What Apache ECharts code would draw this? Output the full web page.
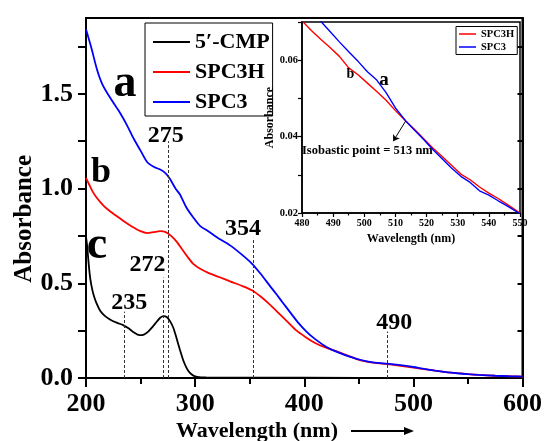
<!DOCTYPE html>
<html>
<head>
<meta charset="utf-8">
<script src="https://cdn.jsdelivr.net/npm/echarts@6/dist/echarts.min.js"></script>
<style>
    html, body { margin: 0; padding: 0; background: #fff; }
    #chart { width: 545px; height: 441px; }
</style>
</head>
<body>
<div id="chart"></div>
<script>
(function () {
    'use strict';

    var FONT = '"Liberation Serif", "Times New Roman", serif';

    // main spectra, [wavelength (nm), absorbance]
    var cmpData = [
        [200, 0.745], [201, 0.70], [202.5, 0.60], [204, 0.52], [206, 0.46], [208, 0.42],
        [210, 0.39], [213, 0.355], [216, 0.335], [219, 0.32], [224, 0.302], [229, 0.29],
        [234, 0.279], [239, 0.262], [244, 0.24], [249, 0.226], [253, 0.229], [257, 0.245],
        [261, 0.27], [265, 0.298], [268, 0.318], [271, 0.327], [274, 0.322], [277, 0.30],
        [280, 0.265], [283, 0.21], [286, 0.15], [289, 0.095], [292, 0.055], [295, 0.028],
        [298, 0.014], [302, 0.006], [310, 0.003], [350, 0.002], [450, 0.001], [600, 0]
    ];
    var spc3hData = [
        [200, 1.056], [203, 1.02], [206, 0.985], [210, 0.95], [216, 0.91], [222, 0.88],
        [228, 0.855], [234, 0.83], [242, 0.80], [250, 0.775], [256, 0.765], [262, 0.77],
        [268, 0.775], [273, 0.77], [278, 0.75], [283, 0.72], [288, 0.68], [293, 0.64],
        [298, 0.604], [305, 0.575], [312, 0.555], [322, 0.533], [332, 0.51], [342, 0.488],
        [352, 0.463], [360, 0.43], [368, 0.39], [377, 0.34], [385, 0.295], [393, 0.25],
        [401, 0.217], [410, 0.185], [420, 0.16], [431, 0.138], [440, 0.118], [448, 0.10],
        [456, 0.088], [465, 0.08], [472, 0.076], [480, 0.0703], [490, 0.0625], [500, 0.055],
        [510, 0.047], [520, 0.0385], [530, 0.031], [540, 0.0255], [550, 0.02], [560, 0.016],
        [575, 0.012], [590, 0.009], [600, 0.007]
    ];
    var spc3Data = [
        [200, 1.84], [205, 1.74], [210, 1.63], [215, 1.55], [222, 1.48], [230, 1.41],
        [237, 1.34], [244, 1.26], [250, 1.20], [256, 1.14], [262, 1.115], [268, 1.10],
        [273, 1.08], [277, 1.05], [282, 1.00], [286, 0.97], [292, 0.90], [298, 0.85],
        [305, 0.80], [312, 0.775], [322, 0.735], [332, 0.70], [342, 0.655], [352, 0.604],
        [360, 0.55], [368, 0.49], [374, 0.446], [380, 0.40], [388, 0.34], [395, 0.288],
        [402, 0.245], [410, 0.205], [420, 0.165], [431, 0.135], [443, 0.11], [452, 0.095],
        [460, 0.085], [470, 0.078], [480, 0.0735], [490, 0.0665], [500, 0.058], [510, 0.048],
        [520, 0.039], [530, 0.031], [540, 0.025], [550, 0.02], [560, 0.016], [575, 0.012],
        [590, 0.009], [600, 0.007]
    ];

    // inset, 480-550 nm
    var spc3hInset = [
        [480, 0.0703], [483, 0.0678], [486, 0.0655], [489, 0.0633], [492, 0.061], [495, 0.058],
        [498, 0.0562], [501, 0.0540], [504, 0.0518], [507, 0.0495], [510, 0.0468], [513.3, 0.0441],
        [516, 0.0420], [519, 0.0395], [522, 0.0370], [525, 0.0348], [528, 0.0325], [531, 0.0302],
        [534, 0.0287], [537, 0.0268], [540, 0.0252], [543, 0.0238], [546, 0.0222], [550, 0.0200]
    ];
    var spc3Inset = [
        [480, 0.0745], [483, 0.0725], [486, 0.0702], [489, 0.0675], [492, 0.0648], [495, 0.0622],
        [498, 0.0597], [501, 0.0570], [504, 0.0548], [507, 0.0515], [510, 0.0475], [513.3, 0.0441],
        [516, 0.0418], [519, 0.0393], [522, 0.0366], [525, 0.0342], [528, 0.0318], [531, 0.0296],
        [534, 0.0280], [537, 0.0258], [540, 0.0247], [543, 0.0232], [546, 0.0218], [550, 0.0198]
    ];

    var peakWave = [235, 271, 275, 353, 476];
    var peakTop = [0.35, 0.53, 1.25, 0.74, 0.245];
    var peakText = ['235', '272', '275', '354', '490'];
    var peakLabelShift = [[5, -9], [-16, -13], [-2, -5], [-10, -9], [7, -9]];

    var yTicks = [0, 0.5, 1.0, 1.5];
    var yMinorTicks = [0, 0.25, 0.5, 0.75, 1.0, 1.25, 1.5, 1.75];
    var insetYTicks = [0.02, 0.04, 0.06];
    var isoPoint = [513.3, 0.0441];
    var isoArrowEnd = [509.3, 0.0388];

    var chart = echarts.init(document.getElementById('chart'));

    var peakLines = peakWave.map(function (w, i) {
        return [{ coord: [w, 0] }, { coord: [w, peakTop[i]] }];
    });
    var peakLabels = peakWave.map(function (w, i) {
        return {
            value: [w, peakTop[i]],
            label: { offset: peakLabelShift[i] },
            name: peakText[i]
        };
    });

    function bold(size, color) {
        return { fontFamily: FONT, fontWeight: 'bold', fontSize: size, color: color || '#000' };
    }

    chart.setOption({
        animation: false,
        backgroundColor: '#fff',
        legend: [{
            data: ['5′-CMP', 'SPC3H', 'SPC3'],
            orient: 'vertical', left: 145, top: 23, z: 1,
            selectedMode: false,
            icon: 'rect',
            backgroundColor: '#fff', borderColor: '#000', borderWidth: 1,
            padding: [8, 3, 3, 8],
            itemWidth: 37, itemHeight: 2, itemGap: 8,
            textStyle: bold(22)
        }, {
            data: ['SPC3H', 'SPC3'],
            orient: 'vertical', left: 456, top: 26.5,
            selectedMode: false,
            icon: 'rect',
            backgroundColor: '#fff', borderColor: '#000', borderWidth: 1,
            padding: [2, 3, 2, 3],
            itemWidth: 17, itemHeight: 1.5, itemGap: 2,
            textStyle: bold(10.5)
        }],
        grid: [{
            left: 86, top: 18, width: 439, height: 360,
            show: true, borderColor: '#000', borderWidth: 2
        }, {
            left: 302, top: 22, width: 218, height: 191,
            show: true, backgroundColor: '#fff', borderColor: '#000', borderWidth: 1.5
        }],
        xAxis: [{
            gridIndex: 0, type: 'value', min: 200, max: 600, interval: 100,
            axisLine: { lineStyle: { color: '#000', width: 2 } },
            axisTick: { inside: false, length: 9, lineStyle: { width: 2 } },
            minorTick: { show: true, splitNumber: 2, length: 6, lineStyle: { color: '#000', width: 2 } },
            axisLabel: Object.assign({ margin: 13 }, bold(26)),
            splitLine: { show: false }
        }, {
            gridIndex: 1, type: 'value', min: 480, max: 550, interval: 10,
            axisLine: { lineStyle: { color: '#000', width: 1.5 } },
            axisTick: { inside: false, length: 4, lineStyle: { width: 1.2 } },
            minorTick: { show: true, splitNumber: 2, length: 2.5, lineStyle: { color: '#000', width: 1.2 } },
            axisLabel: Object.assign({ margin: 5 }, bold(10)),
            splitLine: { show: false },
            name: 'Wavelength (nm)', nameLocation: 'middle', nameGap: 20,
            nameTextStyle: bold(12)
        }],
        yAxis: [{
            gridIndex: 0, type: 'value', min: 0, max: 1.9, interval: 0.25,
            axisLine: { lineStyle: { color: '#000', width: 2 } },
            axisTick: { inside: false, length: 8, lineStyle: { width: 2 }, customValues: yMinorTicks },
            axisLabel: Object.assign({
                margin: 13,
                formatter: function (v) { return yTicks.indexOf(v) >= 0 ? v.toFixed(1) : ''; }
            }, bold(26)),
            splitLine: { show: false }
        }, {
            gridIndex: 0, type: 'value', position: 'right', min: 0, max: 1.9, interval: 0.25,
            axisLine: { show: true, lineStyle: { color: '#000', width: 2 } },
            axisTick: { inside: true, length: 5, lineStyle: { width: 2 }, customValues: yMinorTicks },
            axisLabel: { show: false },
            splitLine: { show: false }
        }, {
            gridIndex: 1, type: 'value', min: 0.02, max: 0.07, interval: 0.01, z: 5,
            axisLine: { lineStyle: { color: '#000', width: 1.5 } },
            axisTick: { inside: false, length: 4, lineStyle: { width: 1.2 } },
            axisLabel: Object.assign({
                margin: 4,
                formatter: function (v) {
                    for (var i = 0; i < insetYTicks.length; i++) {
                        if (Math.abs(insetYTicks[i] - v) < 1e-6) return insetYTicks[i].toFixed(2);
                    }
                    return '';
                }
            }, bold(10.5)),
            splitLine: { show: false },
            name: 'Absorbance', nameLocation: 'middle', nameGap: 24,
            nameTextStyle: bold(12)
        }],
        series: [{
            name: '5′-CMP', type: 'line', xAxisIndex: 0, yAxisIndex: 0,
            data: cmpData, symbol: 'none', smooth: 0.25,
            lineStyle: { color: '#000', width: 1.8 }, itemStyle: { color: '#000' },
            markLine: {
                silent: true, symbol: 'none', label: { show: false },
                lineStyle: { color: '#333', type: [3, 2], width: 1 },
                data: peakLines
            }
        }, {
            name: 'SPC3H', type: 'line', xAxisIndex: 0, yAxisIndex: 0,
            data: spc3hData, symbol: 'none', smooth: 0.25,
            lineStyle: { color: '#ff0000', width: 1.8 }, itemStyle: { color: '#ff0000' }
        }, {
            name: 'SPC3', type: 'line', xAxisIndex: 0, yAxisIndex: 0,
            data: spc3Data, symbol: 'none', smooth: 0.25,
            lineStyle: { color: '#0000ff', width: 1.8 }, itemStyle: { color: '#0000ff' }
        }, {
            name: 'peaks', type: 'scatter', xAxisIndex: 0, yAxisIndex: 0,
            symbolSize: 0, silent: true,
            itemStyle: { opacity: 1, color: '#000' },
            data: peakLabels,
            label: Object.assign({
                show: true, position: 'inside', textBorderWidth: 0,
                formatter: function (p) { return p.name; }
            }, bold(24))
        }, {
            name: 'SPC3H', type: 'line', xAxisIndex: 1, yAxisIndex: 2,
            data: spc3hInset, symbol: 'none',
            lineStyle: { color: '#ff0000', width: 1.4 }, itemStyle: { color: '#ff0000' },
            markLine: {
                silent: true, symbol: ['none', 'arrow'], symbolSize: 6,
                label: { show: false },
                lineStyle: { color: '#000', type: 'solid', width: 1 },
                data: [[{ coord: isoPoint }, { coord: isoArrowEnd }]]
            }
        }, {
            name: 'SPC3', type: 'line', xAxisIndex: 1, yAxisIndex: 2,
            data: spc3Inset, symbol: 'none',
            lineStyle: { color: '#0000ff', width: 1.4 }, itemStyle: { color: '#0000ff' }
        }],
        graphic: [
            { type: 'text', left: 12, top: 155, rotation: Math.PI / 2, z: 10,
              style: Object.assign({ text: 'Absorbance' }, bold(25, '#000')) },
            { type: 'text', x: 257, y: 431, z: 10,
              style: Object.assign({ text: 'Wavelength (nm)', textAlign: 'center', textVerticalAlign: 'middle' }, bold(22, '#000')) },
            { type: 'line', z: 10, shape: { x1: 351, y1: 431, x2: 406, y2: 431 }, style: { stroke: '#000', lineWidth: 2 } },
            { type: 'polygon', z: 10, shape: { points: [[404, 427], [414, 431], [404, 435]] }, style: { fill: '#000' } },
            { type: 'text', x: 125, y: 84, z: 10,
              style: Object.assign({ text: 'a', textAlign: 'center', textVerticalAlign: 'middle' }, bold(46, '#0000ff')) },
            { type: 'text', x: 101, y: 173, z: 10,
              style: Object.assign({ text: 'b', textAlign: 'center', textVerticalAlign: 'middle' }, bold(36, '#ff0000')) },
            { type: 'text', x: 97, y: 246, z: 10,
              style: Object.assign({ text: 'c', textAlign: 'center', textVerticalAlign: 'middle' }, bold(46, '#000')) },
            { type: 'text', x: 350.5, y: 74, z: 10,
              style: Object.assign({ text: 'b', textAlign: 'center', textVerticalAlign: 'middle' }, bold(14, '#ff0000')) },
            { type: 'text', x: 384, y: 80, z: 10,
              style: Object.assign({ text: 'a', textAlign: 'center', textVerticalAlign: 'middle' }, bold(19, '#0000ff')) },
            { type: 'text', x: 302, y: 151, z: 10,
              style: Object.assign({ text: 'Isobastic point = 513 nm', textAlign: 'left', textVerticalAlign: 'middle' }, bold(12.5, '#000')) }
        ]
    });
})();
</script>
</body>
</html>
